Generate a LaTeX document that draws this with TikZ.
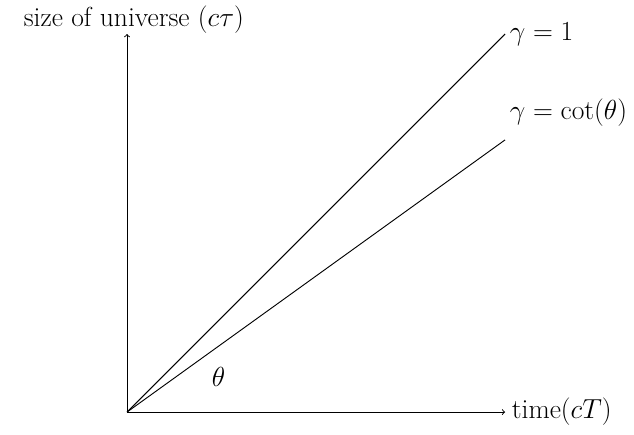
\documentclass[tikz,border=0pt]{standalone}
\begin{document}
\begin{tikzpicture}[lbl/.style={font=\fontsize{20.74}{25}\selectfont},line width=0.7pt]
\useasboundingbox (-3.36,-0.58) rectangle (13.41,10.9);
\coordinate (O) at (0,0);
\coordinate (X) at (10,0);
\coordinate (Y) at (0,10);
\coordinate (A) at (10,10);
\coordinate (B) at (10,7.2);
\draw[->] (O) -- (X) node[right,lbl,xshift=0.05cm] (xl) {time$(cT)$};
\draw[->] (O) -- (Y) node[above,lbl,xshift=0.18cm,yshift=-0.1cm] (yl) {size of universe $(c\tau)$};
\draw (O) -- (A) node[right,lbl] (al) {$\gamma=1$};
\draw (O) -- (B) node[above right,lbl,yshift=0.24cm] (bl) {$\gamma=\cot(\theta)$};
\node[lbl] (th) at (2.42,0.93) {$\theta$};
\end{tikzpicture}
\end{document}
